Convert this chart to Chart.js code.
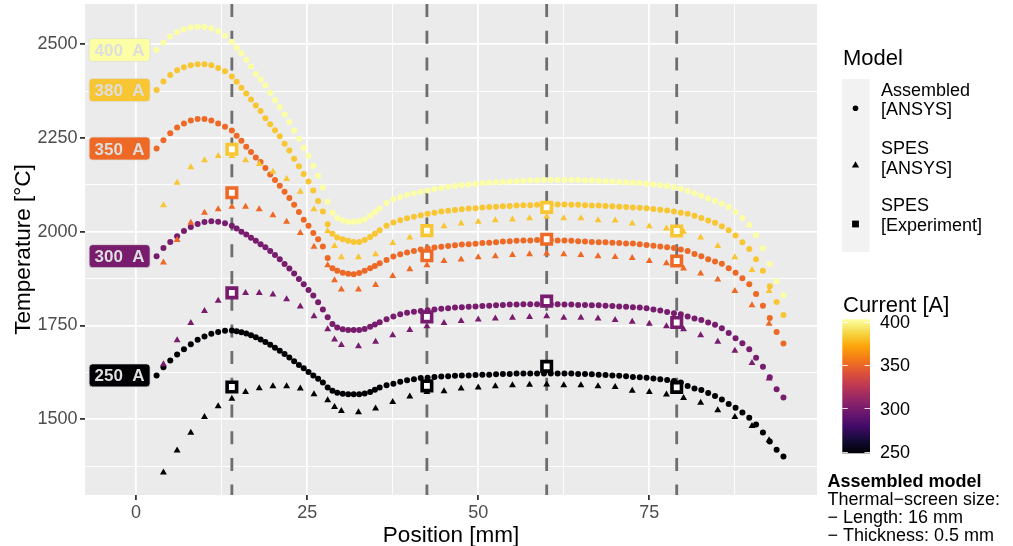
<!DOCTYPE html>
<html>
<head>
<meta charset="utf-8">
<title>Temperature profile</title>
<script src="https://cdn.jsdelivr.net/npm/chart.js@4.4.1/dist/chart.umd.min.js"></script>
<style>
  html, body { margin: 0; padding: 0; background: #fff; }
  canvas { display: block; }
</style>
</head>
<body>
<canvas id="tempChart" width="1013" height="546" style="width:1013px;height:546px"></canvas>
<script>
// Assembled model [ANSYS]: node positions (mm) and temperatures (°C)
const posA = [3,4,5,6,7,8,9,10,11,12,13,14,
  14.7,15.4,16.1,16.8,17.5,18.2,18.9,19.6,20.3,21,21.7,22.4,23.1,23.8,24.5,25.2,25.9,26.6,27.3,28,
  28.7,29.4,30.2,31,31.8,32.6,33.4,34.2,34.9,
  35.6,36.6,37.6,38.6,39.6,40.6,41.6,42.6,43.6,44.6,
  45.6,46.6,47.6,48.6,49.6,50.6,51.6,52.6,53.6,54.6,
  55.6,56.6,57.6,58.6,59.6,60.6,61.6,62.6,63.6,64.6,
  65.6,66.6,67.6,68.6,69.6,70.6,71.6,72.6,73.6,74.6,
  75.6,76.6,77.6,78.6,79.6,80.6,81.6,82.6,83.6,84.6,
  85.6,86.6,87.6,88.6,89.6,90.6,91.6,92.6,93.6,94.6];

const t400 = [2485,2504,2521,2532,2540,2545,2547,2546,2543,2535,2523,2507,
  2491,2476,2459,2441,2421,2406,2390,2371,2351,2333,2313,2293,2270,2248,2224,2203,2176,2149,2118,2080,
  2051,2037,2030,2027,2027,2029,2033,2043,2053,
  2062,2077,2087,2093,2099,2103,2107,2110,2114,2117,
  2120,2122,2124,2126,2128,2130,2131,2132,2133,2134,
  2135,2136,2137,2137,2138,2138,2138,2138,2138,2138,
  2137,2137,2136,2135,2134,2133,2132,2131,2130,2128,
  2126,2124,2122,2119,2115,2109,2103,2096,2089,2082,
  2075,2066,2053,2037,2018,1991,1956,1914,1868,1831];

const t380 = [2378,2401,2418,2431,2439,2444,2447,2447,2444,2437,2428,2414,
  2400,2384,2369,2353,2337,2322,2303,2287,2271,2255,2235,2217,2195,2175,2154,2134,2110,2082,2054,2020,
  1995,1985,1980,1976,1973,1973,1978,1986,1995,
  2004,2016,2025,2031,2036,2040,2044,2048,2051,2054,
  2056,2058,2060,2062,2063,2065,2066,2067,2068,2069,
  2070,2071,2071,2072,2072,2073,2073,2073,2072,2072,
  2071,2070,2070,2069,2068,2067,2066,2065,2064,2063,
  2061,2059,2057,2054,2051,2048,2043,2037,2030,2024,
  2015,2004,1990,1972,1954,1927,1896,1855,1813,1778];

const t350 = [2222,2244,2263,2278,2289,2297,2301,2301,2297,2289,2280,2270,
  2256,2243,2227,2213,2198,2186,2170,2153,2138,2123,2107,2090,2072,2053,2032,2016,1997,1980,1961,1930,
  1903,1896,1891,1888,1887,1890,1896,1903,1909,
  1916,1925,1934,1940,1945,1949,1953,1956,1958,1960,
  1962,1964,1966,1967,1968,1970,1971,1972,1974,1975,
  1976,1977,1977,1978,1978,1978,1977,1977,1976,1975,
  1974,1973,1972,1972,1971,1970,1969,1969,1967,1965,
  1963,1961,1959,1957,1953,1949,1941,1935,1927,1921,
  1915,1903,1891,1876,1860,1834,1803,1770,1733,1702];

const t300 = [1935,1957,1973,1988,2002,2013,2021,2026,2028,2027,2023,2016,
  2009,2000,1993,1984,1976,1967,1959,1949,1938,1927,1914,1902,1889,1874,1860,1845,1830,1812,1793,1772,
  1754,1745,1740,1738,1738,1738,1741,1747,1753,
  1759,1767,1774,1780,1784,1787,1789,1791,1793,1795,
  1796,1798,1799,1800,1801,1802,1803,1804,1805,1806,
  1806,1807,1807,1807,1807,1807,1807,1806,1806,1805,
  1805,1804,1804,1803,1802,1801,1800,1799,1798,1796,
  1793,1790,1786,1783,1780,1774,1769,1765,1758,1752,
  1743,1730,1716,1703,1687,1664,1640,1612,1580,1558];

const t250 = [1617,1639,1657,1673,1687,1700,1712,1721,1728,1733,1736,1737,
  1735,1732,1729,1724,1719,1713,1706,1699,1691,1683,1674,1665,1655,1645,1636,1626,1617,1608,1598,1585,
  1576,1571,1568,1567,1567,1567,1569,1573,1579,
  1585,1591,1595,1600,1604,1607,1610,1611,1613,1614,
  1615,1616,1617,1617,1618,1619,1619,1620,1621,1621,
  1622,1622,1622,1622,1622,1622,1622,1622,1622,1621,
  1621,1620,1619,1618,1617,1616,1615,1613,1612,1611,
  1609,1607,1605,1602,1598,1589,1582,1578,1570,1562,
  1553,1541,1531,1518,1504,1486,1465,1441,1419,1401];

// SPES model [ANSYS]
const posS = [4,6,8,10,12,14,16,18,20,22,24,26,28,29,30,32.5,35,37.5,40,42.5,
  45,47.5,50,52.5,55,57.5,60,62.5,65,67.5,70,72.5,75,77.5,80,82.5,85,87.5,90,92.5];
const s380 = [2071,2131,2172,2191,2202,2202,2191,2181,2160,2141,2107,2060,2002,1962,1932,1932,1940,1970,1985,2000,
  2015,2022,2027,2031,2033,2036,2040,2036,2036,2031,2030,2022,2015,2009,2000,1985,1962,1932,1898,1842];
const s350 = [1918,1978,2024,2051,2060,2067,2067,2060,2044,2027,1997,1960,1911,1871,1846,1846,1858,1882,1900,1911,
  1922,1926,1932,1935,1938,1940,1942,1940,1938,1935,1933,1930,1922,1916,1902,1889,1873,1842,1804,1755];
const s300 = [1647,1711,1757,1789,1816,1830,1837,1837,1833,1820,1801,1775,1740,1713,1698,1695,1707,1724,1738,1748,
  1757,1762,1766,1769,1771,1773,1775,1771,1771,1769,1765,1760,1755,1748,1740,1724,1707,1683,1650,1609];
const s250 = [1358,1417,1464,1506,1535,1555,1573,1583,1588,1588,1582,1567,1551,1533,1522,1519,1529,1546,1561,1573,
  1575,1582,1585,1588,1591,1592,1593,1591,1591,1588,1586,1576,1573,1566,1557,1544,1524,1506,1482,1444];

// SPES [Experiment] (thermocouple positions, also the dashed lines)
const posE = [14, 42.5, 60, 79];
const e380 = [2220, 2003, 2065, 2002];
const e350 = [2104, 1936, 1980, 1922];
const e300 = [1837, 1773, 1815, 1758];
const e250 = [1586, 1589, 1641, 1585];

const currents = [400, 380, 350, 300, 250];
const currentColors = ['#FCFFA4', '#F8C632', '#ED6925', '#781C6D', '#000004'];
const assembledSeries = [t400, t380, t350, t300, t250];
const spesSeries = [null, s380, s350, s300, s250];
const expSeries = [null, e380, e350, e300, e250];
const colorbarTicks = [250, 300, 350, 400];

const FONT = "'Liberation Sans', Arial, Helvetica, sans-serif";
const infernoStops = ['#000004', '#160B39', '#420A68', '#6A176E', '#932667', '#BC3754',
  '#DD513A', '#F37819', '#FCA50A', '#F6D746', '#FCFFA4'];

const toPoints = (xs, ys) => xs.map((x, i) => ({ x: x, y: ys[i] }));

const datasets = [];
currents.forEach((c, i) => {
  if (expSeries[i]) {
    datasets.push({
      label: c + ' A experiment', data: toPoints(posE, expSeries[i]), order: 1,
      pointStyle: 'rect', pointRadius: 6.7, pointBackgroundColor: '#FFFFFF',
      pointBorderColor: currentColors[i], pointBorderWidth: 3.6
    });
  }
  if (spesSeries[i]) {
    datasets.push({
      label: c + ' A SPES', data: toPoints(posS, spesSeries[i]), order: 2,
      pointStyle: 'triangle', pointRadius: 4.0, pointBackgroundColor: currentColors[i],
      pointBorderWidth: 0
    });
  }
  datasets.push({
    label: c + ' A assembled', data: toPoints(posA, assembledSeries[i]), order: 3,
    pointStyle: 'circle', pointRadius: 3.0, pointBackgroundColor: currentColors[i],
    pointBorderWidth: 0
  });
});

const major = (v, step) => Math.abs(v / step - Math.round(v / step)) < 1e-6;

function roundRect(ctx, x, y, w, h, r) {
  ctx.beginPath();
  ctx.moveTo(x + r, y);
  ctx.arcTo(x + w, y, x + w, y + h, r);
  ctx.arcTo(x + w, y + h, x, y + h, r);
  ctx.arcTo(x, y + h, x, y, r);
  ctx.arcTo(x, y, x + w, y, r);
  ctx.closePath();
}

const decorPlugin = {
  id: 'decor',
  beforeDraw(chart) {
    const { ctx, chartArea: a } = chart;
    ctx.save();
    ctx.fillStyle = '#FFFFFF';
    ctx.fillRect(0, 0, chart.width, chart.height);
    ctx.fillStyle = '#EBEBEB';
    ctx.fillRect(a.left, a.top, a.right - a.left, a.bottom - a.top);
    ctx.restore();
  },
  beforeDatasetsDraw(chart) {
    const { ctx, chartArea: a, scales: { x } } = chart;
    ctx.save();
    ctx.strokeStyle = '#6E6E6E';
    ctx.lineWidth = 2.8;
    ctx.setLineDash([13, 13.7]);
    posE.forEach(p => {
      const px = x.getPixelForValue(p);
      ctx.beginPath();
      ctx.moveTo(px, a.top);
      ctx.lineTo(px, a.bottom);
      ctx.stroke();
    });
    ctx.restore();
  },
  afterDatasetsDraw(chart) {
    // current labels left of each curve
    const { ctx, scales: { x, y } } = chart;
    ctx.save();
    ctx.font = 'bold 17px ' + FONT;
    ctx.textAlign = 'center';
    ctx.textBaseline = 'alphabetic';
    currents.forEach((c, i) => {
      const px = x.getPixelForValue(posA[0]);
      const py = y.getPixelForValue(assembledSeries[i][0]);
      const w = 61, h = 23, right = px - 6.5;
      roundRect(ctx, right - w, py - h / 2, w, h, 3.5);
      ctx.fillStyle = currentColors[i];
      ctx.fill();
      ctx.strokeStyle = '#DEDEDE';
      ctx.lineWidth = 0.8;
      ctx.stroke();
      ctx.fillStyle = '#DEDEDE';
      ctx.fillText(c + '  A', right - w / 2, py + 6.1);
    });
    ctx.restore();
  },
  afterDraw(chart) {
    const { ctx, chartArea: a } = chart;
    ctx.save();
    ctx.fillStyle = '#000000';
    // axis titles
    ctx.font = '22.5px ' + FONT;
    ctx.textAlign = 'center';
    ctx.textBaseline = 'alphabetic';
    ctx.fillText('Position [mm]', (a.left + a.right) / 2, 541.5);
    ctx.save();
    ctx.translate(30, (a.top + a.bottom) / 2);
    ctx.rotate(-Math.PI / 2);
    ctx.fillText('Temperature [°C]', 0, 0);
    ctx.restore();

    // shape legend
    ctx.textAlign = 'left';
    ctx.font = '22px ' + FONT;
    ctx.fillText('Model', 843, 65);
    ctx.fillStyle = '#F2F2F2';
    ctx.fillRect(842, 79, 27.5, 173);
    ctx.fillStyle = '#000000';
    const kx = 855.5;
    ctx.beginPath(); ctx.arc(kx, 108.3, 2.8, 0, Math.PI * 2); ctx.fill();
    ctx.beginPath();
    ctx.moveTo(kx, 161.3); ctx.lineTo(kx + 3.6, 167.6); ctx.lineTo(kx - 3.6, 167.6);
    ctx.closePath(); ctx.fill();
    ctx.fillRect(kx - 3.4, 220.6, 6.8, 6.8);
    ctx.font = '18px ' + FONT;
    const legendLines = [['Assembled', 95.6], ['[ANSYS]', 115], ['SPES', 153.8], ['[ANSYS]', 173.5],
      ['SPES', 211], ['[Experiment]', 230.5]];
    legendLines.forEach(l => ctx.fillText(l[0], 881, l[1]));

    // colorbar
    ctx.font = '22px ' + FONT;
    ctx.fillText('Current [A]', 843, 311.7);
    const barTop = 319.3, barBot = 453.3, barL = 842.3, barR = 870;
    const vTop = 400, vBot = 250, pTop = 321.7, pBot = 451.7;
    const vp = v => pBot - (v - vBot) / (vTop - vBot) * (pBot - pTop);
    const grad = ctx.createLinearGradient(0, barBot, 0, barTop);
    infernoStops.forEach((c, i) => grad.addColorStop(i / (infernoStops.length - 1), c));
    ctx.fillStyle = grad;
    ctx.fillRect(barL, barTop, barR - barL, barBot - barTop);
    ctx.strokeStyle = 'rgba(255,255,255,0.85)';
    ctx.lineWidth = 1;
    colorbarTicks.forEach(v => {
      const py = Math.round(vp(v)) + 0.5;
      ctx.beginPath();
      ctx.moveTo(barL, py); ctx.lineTo(barL + 5.5, py);
      ctx.moveTo(barR - 5.5, py); ctx.lineTo(barR, py);
      ctx.stroke();
    });
    ctx.fillStyle = '#000000';
    ctx.font = '18px ' + FONT;
    colorbarTicks.forEach(v => ctx.fillText(String(v), 880, vp(v) + 6.4));

    // note
    ctx.font = 'bold 18px ' + FONT;
    ctx.fillText('Assembled model', 827.5, 486.7);
    ctx.font = '18px ' + FONT;
    ctx.fillText('Thermal\u2212screen size:', 827.5, 505);
    ctx.fillText('\u2212 Length: 16 mm', 827.5, 523.3);
    ctx.fillText('\u2212 Thickness: 0.5 mm', 827.5, 540.5);
    ctx.restore();
  }
};

const noPad = s => { s.paddingTop = 0; s.paddingBottom = 0; s.paddingLeft = 0; s.paddingRight = 0; };

new Chart(document.getElementById('tempChart'), {
  type: 'scatter',
  data: { datasets: datasets },
  options: {
    responsive: false,
    animation: false,
    devicePixelRatio: 1,
    layout: { autoPadding: false, padding: { top: 4, right: 196, left: 0, bottom: 0 } },
    plugins: { legend: { display: false }, tooltip: { enabled: false } },
    scales: {
      x: {
        type: 'linear', min: -7.46, max: 99.5,
        afterFit: s => { s.height = 51; noPad(s); },
        border: { display: false },
        ticks: {
          stepSize: 12.5, includeBounds: false, autoSkip: false, maxRotation: 0,
          color: '#4D4D4D', font: { family: FONT, size: 18 }, padding: 2,
          callback: v => major(v, 25) ? String(v) : ''
        },
        grid: {
          color: '#FFFFFF',
          lineWidth: c => major(c.tick.value, 25) ? 1.8 : 0.9,
          tickColor: c => major(c.tick.value, 25) ? '#333333' : 'rgba(0,0,0,0)',
          tickWidth: c => major(c.tick.value, 25) ? 1.8 : 0.9,
          tickLength: 5
        }
      },
      y: {
        type: 'linear', min: 1298, max: 2607.5,
        afterFit: s => { s.width = 85; noPad(s); },
        border: { display: false },
        ticks: {
          stepSize: 125, includeBounds: false, autoSkip: false,
          color: '#4D4D4D', font: { family: FONT, size: 18, lineHeight: 0.4 }, padding: 2.5,
          callback: v => major(v, 250) ? String(v) : ''
        },
        grid: {
          color: '#FFFFFF',
          lineWidth: c => major(c.tick.value, 250) ? 1.8 : 0.9,
          tickColor: c => major(c.tick.value, 250) ? '#333333' : 'rgba(0,0,0,0)',
          tickWidth: c => major(c.tick.value, 250) ? 1.8 : 0.9,
          tickLength: 5
        }
      }
    }
  },
  plugins: [decorPlugin]
});
</script>
</body>
</html>
